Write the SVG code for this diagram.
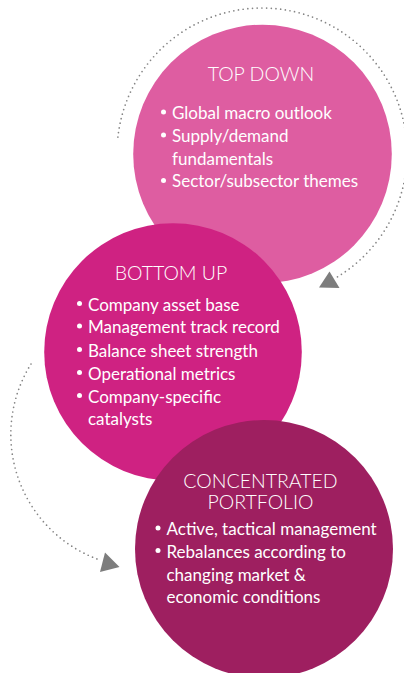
<svg xmlns="http://www.w3.org/2000/svg" width="404" height="673" viewBox="0 0 404 673">
<style>
.title{font-family:Lato,"Liberation Sans",sans-serif;font-size:19.5px;font-weight:300;fill:#ffffff;text-anchor:middle}
.item{font-family:Lato,"Liberation Sans",sans-serif;font-size:17px;fill:#ffffff}
.bul{fill:#ffffff}
.dots{fill:none;stroke:#858585;stroke-width:1.7;stroke-linecap:round;stroke-dasharray:0 4.7}
.head{fill:#7d7d7d}
</style>
<rect width="404" height="673" fill="#ffffff"/>
<g id="connectors">
<path class="dots" d="M117.9 137.1 A145 145 0 1 1 334.5 278.6"/>
<polygon class="head" points="329.5,271.5 319,287.5 339.5,288"/>
<path class="dots" d="M31 364 A133 133 0 0 0 100 560"/>
<polygon class="head" points="105,552.5 100,572 119.5,567"/>
</g>
<g id="top-down">
<circle cx="262.5" cy="154" r="129.3" fill="#DE5DA1"/>
<text class="title" x="261" y="81">TOP DOWN</text>
<circle class="bul" cx="163.5" cy="112" r="2.5"/>
<circle class="bul" cx="163.5" cy="135" r="2.5"/>
<circle class="bul" cx="163.5" cy="180.5" r="2.5"/>
<text class="item" x="172" y="118.5">Global macro outlook</text>
<text class="item" x="172" y="141.5">Supply/demand</text>
<text class="item" x="172" y="164.5">fundamentals</text>
<text class="item" x="172" y="187">Sector/subsector themes</text>
</g>
<g id="bottom-up">
<circle cx="173" cy="352" r="128.8" fill="#CF2282"/>
<text class="title" x="171" y="280">BOTTOM UP</text>
<circle class="bul" cx="79.5" cy="303.5" r="2.5"/>
<circle class="bul" cx="79.5" cy="326" r="2.5"/>
<circle class="bul" cx="79.5" cy="349.5" r="2.5"/>
<circle class="bul" cx="79.5" cy="372.5" r="2.5"/>
<circle class="bul" cx="79.5" cy="395.5" r="2.5"/>
<text class="item" x="88" y="310.5">Company asset base</text>
<text class="item" x="88" y="333">Management track record</text>
<text class="item" x="88" y="356.5">Balance sheet strength</text>
<text class="item" x="88" y="379.5">Operational metrics</text>
<text class="item" x="88" y="402.5">Company-specific</text>
<text class="item" x="88" y="425">catalysts</text>
</g>
<g id="concentrated-portfolio">
<circle cx="264" cy="549" r="129" fill="#9E1F60"/>
<text class="title"><tspan x="260.5" y="488">CONCENTRATED</tspan><tspan x="260.5" y="508.5">PORTFOLIO</tspan></text>
<circle class="bul" cx="158" cy="528" r="2.5"/>
<circle class="bul" cx="158" cy="550.5" r="2.5"/>
<text class="item" x="166.5" y="535">Active, tactical management</text>
<text class="item" x="166.5" y="557.5">Rebalances according to</text>
<text class="item" x="166.5" y="580.5">changing market &amp;</text>
<text class="item" x="166.5" y="603">economic conditions</text>
</g>
</svg>
